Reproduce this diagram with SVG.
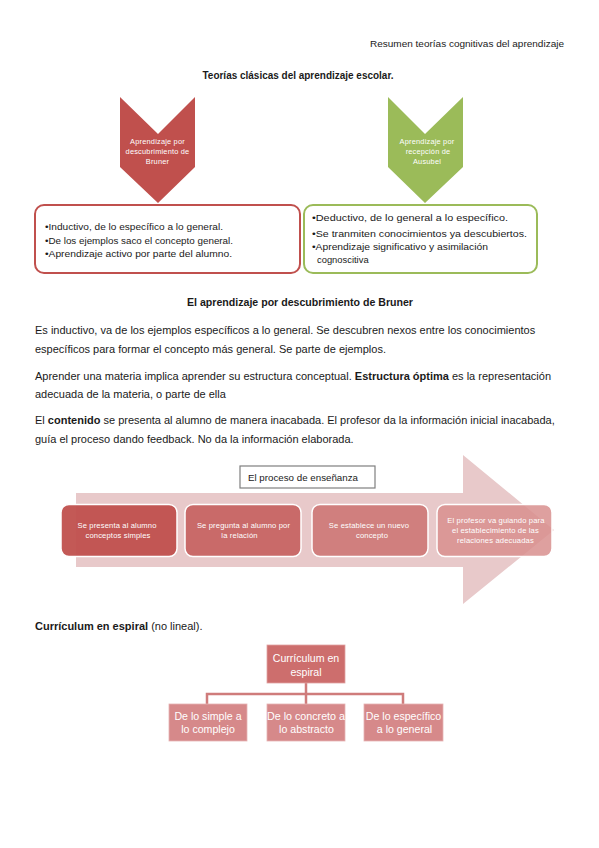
<svg xmlns="http://www.w3.org/2000/svg" width="599" height="848" viewBox="0 0 599 848">
<style>
  .t{font-family:"Liberation Sans",Arial,sans-serif;fill:#1a1a1a}
  .b{font-weight:bold}
  .p{font-size:11px}
  .w{fill:#ffffff;font-family:"Liberation Sans",Arial,sans-serif}
  .chev{font-size:7.4px;letter-spacing:0.2px}
  .bx{font-size:8.8px}
  .pb{font-size:7.6px;letter-spacing:0.15px}
  .cb{font-size:10.6px}
  .step{stroke:#ffffff;stroke-width:1.5}
  .conn{fill:none;stroke:#cf7c7b;stroke-width:2.5}
</style>
<rect width="599" height="848" fill="#ffffff"/>

<text class="t" x="564" y="47" font-size="8.6" text-anchor="end" textLength="194" lengthAdjust="spacingAndGlyphs">Resumen teorías cognitivas del aprendizaje</text>
<text class="t b" x="298" y="79" font-size="10.5" text-anchor="middle" textLength="191" lengthAdjust="spacingAndGlyphs">Teorías clásicas del aprendizaje escolar.</text>

<g id="bruner-chevron">
  <polygon points="120,97 158,134 195,97 195,167 158,203 120,167" fill="#c0504d"/>
  <text class="w chev" x="157.5" y="144" text-anchor="middle">Aprendizaje por</text>
  <text class="w chev" x="157.5" y="154" text-anchor="middle">descubrimiento de</text>
  <text class="w chev" x="157.5" y="164" text-anchor="middle">Bruner</text>
</g>
<g id="ausubel-chevron">
  <polygon points="388,97 425,134 463,97 463,167 425,203 388,167" fill="#9bbb59"/>
  <text class="w chev" x="427" y="144" text-anchor="middle">Aprendizaje por</text>
  <text class="w chev" x="428" y="154" text-anchor="middle">recepción de</text>
  <text class="w chev" x="427" y="164" text-anchor="middle">Ausubel</text>
</g>
<g id="bruner-box">
  <rect x="35" y="205" width="265" height="68" rx="9" fill="#ffffff" stroke="#c0504d" stroke-width="2"/>
  <text class="t bx" x="45" y="230" textLength="178" lengthAdjust="spacingAndGlyphs">•Inductivo, de lo específico a lo general.</text>
  <text class="t bx" x="45" y="243.5" textLength="188" lengthAdjust="spacingAndGlyphs">•De los ejemplos saco el concepto general.</text>
  <text class="t bx" x="45" y="257" textLength="187" lengthAdjust="spacingAndGlyphs">•Aprendizaje activo por parte del alumno.</text>
</g>
<g id="ausubel-box">
  <rect x="304" y="205" width="233" height="68" rx="9" fill="#ffffff" stroke="#9bbb59" stroke-width="2"/>
  <text class="t bx" x="312" y="221" textLength="196" lengthAdjust="spacingAndGlyphs">•Deductivo, de lo general a lo específico.</text>
  <text class="t bx" x="312" y="237" textLength="215" lengthAdjust="spacingAndGlyphs">•Se tranmiten conocimientos ya descubiertos.</text>
  <text class="t bx" x="312" y="250" textLength="176" lengthAdjust="spacingAndGlyphs">•Aprendizaje significativo y asimilación</text>
  <text class="t" x="317" y="263" style="font-size:9.4px">cognoscitiva</text>
</g>

<text class="t b" x="300" y="306" font-size="10.2" text-anchor="middle" textLength="226" lengthAdjust="spacingAndGlyphs">El aprendizaje por descubrimiento de Bruner</text>

<text class="t p" x="35" y="334">Es inductivo, va de los ejemplos específicos a lo general. Se descubren nexos entre los conocimientos</text>
<text class="t p" x="35" y="353">específicos para formar el concepto más general. Se parte de ejemplos.</text>
<text class="t p" x="35" y="380">Aprender una materia implica aprender su estructura conceptual. <tspan class="b">Estructura óptima</tspan> es la representación</text>
<text class="t p" x="35" y="398">adecuada de la materia, o parte de ella</text>
<text class="t p" x="35" y="424">El <tspan class="b">contenido</tspan> se presenta al alumno de manera inacabada. El profesor da la información inicial inacabada,</text>
<text class="t p" x="35" y="443">guía el proceso dando feedback. No da la información elaborada.</text>

<g id="process-arrow">
  <polygon points="76,493 463,493 463,455 554,530 463,604 463,567 76,567" fill="#e8c9ca"/>
</g>
<g id="process-title">
  <rect x="240" y="466" width="135" height="22" fill="#ffffff" stroke="#7f7f7f" stroke-width="1.2"/>
  <text class="t" x="248" y="481" font-size="8.6" textLength="110" lengthAdjust="spacingAndGlyphs">El proceso de enseñanza</text>
</g>
<g id="step1">
  <rect class="step" x="61" y="504.5" width="116" height="52" rx="8" fill="#c0504d" fill-opacity="0.95"/>
  <text class="w pb" x="117" y="527.5" text-anchor="middle">Se presenta al alumno</text>
  <text class="w pb" x="118" y="537.5" text-anchor="middle">conceptos simples</text>
</g>
<g id="step2">
  <rect class="step" x="185" y="504.5" width="116" height="52" rx="8" fill="#c96a69"/>
  <text class="w pb" x="243.5" y="527.5" text-anchor="middle">Se pregunta al alumno por</text>
  <text class="w pb" x="239.5" y="537.5" text-anchor="middle">la relación</text>
</g>
<g id="step3">
  <rect class="step" x="312" y="504.5" width="116" height="52" rx="8" fill="#d07f7e"/>
  <text class="w pb" x="369" y="527.5" text-anchor="middle">Se establece un nuevo</text>
  <text class="w pb" x="372" y="537.5" text-anchor="middle">concepto</text>
</g>
<g id="step4">
  <rect class="step" x="437" y="504.5" width="115" height="52" rx="8" fill="#d88f8e" fill-opacity="0.85"/>
  <text class="w pb" x="496" y="522.5" text-anchor="middle">El profesor va guiando para</text>
  <text class="w pb" x="495.5" y="532.5" text-anchor="middle">el establecimiento de las</text>
  <text class="w pb" x="495.5" y="542.5" text-anchor="middle">relaciones adecuadas</text>
</g>

<text class="t p" x="35" y="630"><tspan class="b">Currículum en espiral</tspan> (no lineal).</text>

<g id="connectors">
  <path class="conn" d="M306,683 V694 M207,704 V694 H403 V704 M306,694 V704"/>
</g>
<g id="curriculum-root">
  <rect x="267" y="645" width="78" height="38" fill="#cd6e6d" stroke="#e0a3a3" stroke-width="0.8"/>
  <text class="w cb" x="306" y="662" text-anchor="middle">Currículum en</text>
  <text class="w cb" x="306" y="676" text-anchor="middle">espiral</text>
</g>
<g id="curriculum-simple">
  <rect x="169" y="704" width="78" height="37" fill="#d6898a" stroke="#e6b3b3" stroke-width="0.8"/>
  <text class="w cb" x="208" y="720" text-anchor="middle">De lo simple a</text>
  <text class="w cb" x="208" y="733" text-anchor="middle">lo complejo</text>
</g>
<g id="curriculum-concreto">
  <rect x="267" y="704" width="78" height="37" fill="#d6898a" stroke="#e6b3b3" stroke-width="0.8"/>
  <text class="w cb" x="306" y="720" text-anchor="middle" textLength="78" lengthAdjust="spacingAndGlyphs">De lo concreto a</text>
  <text class="w cb" x="306.5" y="733" text-anchor="middle">lo abstracto</text>
</g>
<g id="curriculum-especifico">
  <rect x="364" y="704" width="79" height="37" fill="#d6898a" stroke="#e6b3b3" stroke-width="0.8"/>
  <text class="w cb" x="403.5" y="720" text-anchor="middle">De lo específico</text>
  <text class="w cb" x="404.5" y="733" text-anchor="middle">a lo general</text>
</g>
</svg>
